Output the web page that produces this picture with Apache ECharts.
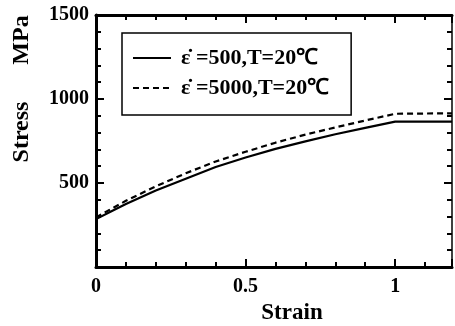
<!DOCTYPE html>
<html>
<head>
<meta charset="utf-8">
<script src="https://cdn.jsdelivr.net/npm/echarts@6/dist/echarts.min.js"></script>
<style>
  html, body { margin: 0; padding: 0; background: #fff; }
  #chart { width: 455px; height: 326px; }
</style>
</head>
<body>
<div id="chart"></div>
<script>
// values
const strain = [0, 0.05, 0.1, 0.2, 0.3, 0.4, 0.5, 0.6, 0.7, 0.8, 0.9, 1.0, 1.19];
const stress500 = [285, 330, 375, 455, 525, 595, 652, 703, 748, 790, 828, 865, 865];
const stress5000 = [295, 345, 394, 480, 558, 628, 686, 740, 788, 831, 872, 912, 915];
const seriesNames = ['ε̇ =500,T=20℃', 'ε̇ =5000,T=20℃'];
const xMajorLabels = [0, 0.5, 1];

const FONT = '"Liberation Serif", "Times New Roman", serif';
const xMin = 0, xMax = 1.19, yMin = 0, yMax = 1500;

const chart = echarts.init(document.getElementById('chart'));

// build an x axis; major axes carry labels, minor ones only short ticks
function xAx(pos, interval, len, showLine, showLabel) {
  return {
    type: 'value', position: pos, min: xMin, max: xMax, interval: interval,
    axisLine: { show: showLine, onZero: false, lineStyle: { color: '#000', width: 3 } },
    axisTick: { inside: true, length: len, lineStyle: { color: '#000', width: 2 } },
    axisLabel: {
      show: showLabel, margin: 10, color: '#000',
      fontFamily: FONT, fontWeight: 'bold', fontSize: 20,
      formatter: v => (xMajorLabels.some(m => Math.abs(m - v) < 1e-6) ? String(v) : '')
    },
    splitLine: { show: false }
  };
}
function yAx(pos, interval, len, showLine, lineW, showLabel) {
  return {
    type: 'value', position: pos, min: yMin, max: yMax, interval: interval,
    axisLine: { show: showLine, onZero: false, lineStyle: { color: '#000', width: lineW } },
    axisTick: { inside: true, length: len, lineStyle: { color: '#000', width: 2 } },
    axisLabel: {
      show: showLabel, margin: 7, color: '#000',
      fontFamily: FONT, fontWeight: 'bold', fontSize: 20,
      formatter: v => (v === 0 ? '' : String(v))
    },
    splitLine: { show: false }
  };
}

const option = {
  animation: false,
  grid: { left: 96, top: 15, right: 2, bottom: 59 },
  xAxis: [
    xAx('bottom', 0.5, 8, true, true),
    xAx('bottom', 0.1, 5, false, false),
    xAx('top', 0.5, 8, true, false),
    xAx('top', 0.1, 5, false, false)
  ],
  yAxis: [
    yAx('left', 500, 8, true, 3, true),
    yAx('left', 100, 5, false, 3, false),
    yAx('right', 500, 8, true, 1.5, false),
    yAx('right', 100, 5, false, 1.5, false)
  ],
  legend: {
    left: 122, top: 33, orient: 'vertical',
    padding: [13, 22, 15, 10], itemGap: 6,
    itemWidth: 38, itemHeight: 14,
    itemStyle: { opacity: 0 },
    borderColor: '#000', borderWidth: 1.5,
    textStyle: {
      color: '#000', fontFamily: FONT, fontWeight: 'bold', fontSize: 22,
      lineHeight: 24, padding: [0, 0, 0, 5]
    },
    data: seriesNames
  },
  graphic: [
    { type: 'text', x: 22, y: 132, rotation: Math.PI / 2,
      style: { text: 'Stress', font: 'bold 24px ' + FONT, fill: '#000', align: 'center', verticalAlign: 'middle' } },
    { type: 'text', x: 22, y: 40, rotation: Math.PI / 2,
      style: { text: 'MPa', font: 'bold 24px ' + FONT, fill: '#000', align: 'center', verticalAlign: 'middle' } },
    { type: 'text', x: 292, y: 313,
      style: { text: 'Strain', font: 'bold 23px ' + FONT, fill: '#000', align: 'center', verticalAlign: 'middle' } }
  ],
  series: [
    {
      name: seriesNames[0], type: 'line', symbol: 'none', smooth: false,
      xAxisIndex: 0, yAxisIndex: 0,
      lineStyle: { color: '#000', width: 2.2, type: 'solid' },
      itemStyle: { color: '#000' },
      data: strain.map((x, i) => [x, stress500[i]])
    },
    {
      name: seriesNames[1], type: 'line', symbol: 'none', smooth: false,
      xAxisIndex: 0, yAxisIndex: 0,
      lineStyle: { color: '#000', width: 2.2, type: [6, 4] },
      itemStyle: { color: '#000' },
      data: strain.map((x, i) => [x, stress5000[i]])
    }
  ]
};

chart.setOption(option);
</script>
</body>
</html>
